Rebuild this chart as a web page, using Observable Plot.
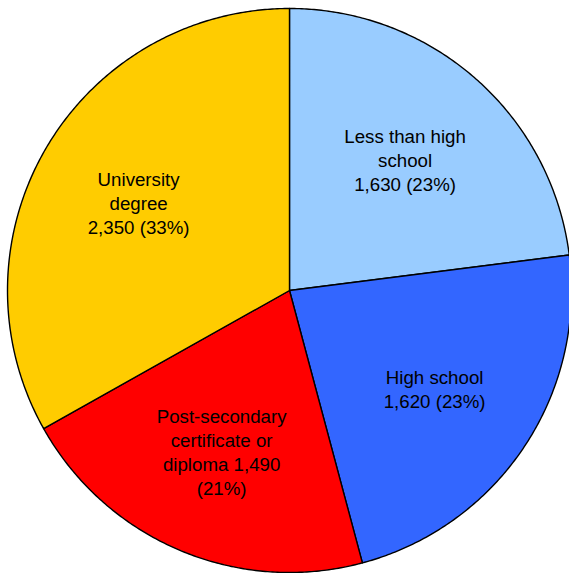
<!DOCTYPE html>
<html>
<head>
<meta charset="utf-8">
<script src="https://cdn.jsdelivr.net/npm/d3@7"></script>
<script src="https://cdn.jsdelivr.net/npm/@observablehq/plot@0.6"></script>
<style>
  html, body { margin: 0; padding: 0; background: #ffffff; }
  #chart svg { display: block; }
</style>
</head>
<body>
<div id="chart"></div>
<script>
const categories = ["Less than high school", "High school", "Post-secondary certificate or diploma", "University degree"];
const values = [1630, 1620, 1490, 2350];
const colors = ["#99CCFF", "#3366FF", "#FF0000", "#FFCC00"];
const labels = [
  "Less than high\nschool\n1,630 (23%)",
  "High school\n1,620 (23%)",
  "Post-secondary\ncertificate or\ndiploma 1,490\n(21%)",
  "University\ndegree\n2,350 (33%)"
];

const W = 569, H = 573;
const cx = 289, cy = 290, R = 282;

const pie = d3.pie().sort(null).value(d => d)(values);

// build slice outlines (angles measured clockwise from 12 o'clock)
const slicePts = [];
pie.forEach((p, i) => {
  const cat = categories[i];
  slicePts.push({cat, x: 0, y: 0});
  const steps = Math.max(2, Math.ceil((p.endAngle - p.startAngle) / (Math.PI / 360)));
  for (let k = 0; k <= steps; k++) {
    const a = p.startAngle + (p.endAngle - p.startAngle) * k / steps;
    slicePts.push({cat, x: R * Math.sin(a), y: R * Math.cos(a)});
  }
});

const labelData = pie.map((p, i) => {
  const a = (p.startAngle + p.endAngle) / 2;
  const r = 0.62 * R;
  return {cat: categories[i], text: labels[i], x: r * Math.sin(a), y: r * Math.cos(a)};
});

const chart = Plot.plot({
  width: W,
  height: H,
  margin: 0,
  x: {domain: [-cx, W - cx], range: [0, W], axis: null},
  y: {domain: [-(H - cy), cy], range: [H, 0], axis: null},
  color: {domain: categories, range: colors},
  style: {background: "#ffffff"},
  marks: [
    Plot.line(slicePts, {
      x: "x", y: "y", z: "cat",
      fill: "cat",
      stroke: "#000000",
      strokeWidth: 1.4,
      strokeLinejoin: "round",
      curve: "linear-closed"
    }),
    Plot.text(labelData, {
      x: "x", y: "y", text: "text",
      fontSize: 18.7,
      lineHeight: 1.283,
      fontFamily: "'Liberation Sans', Arial, sans-serif",
      fill: "#000000",
      textAnchor: "middle",
      lineAnchor: "middle"
    })
  ]
});

document.getElementById("chart").appendChild(chart);
</script>
</body>
</html>
